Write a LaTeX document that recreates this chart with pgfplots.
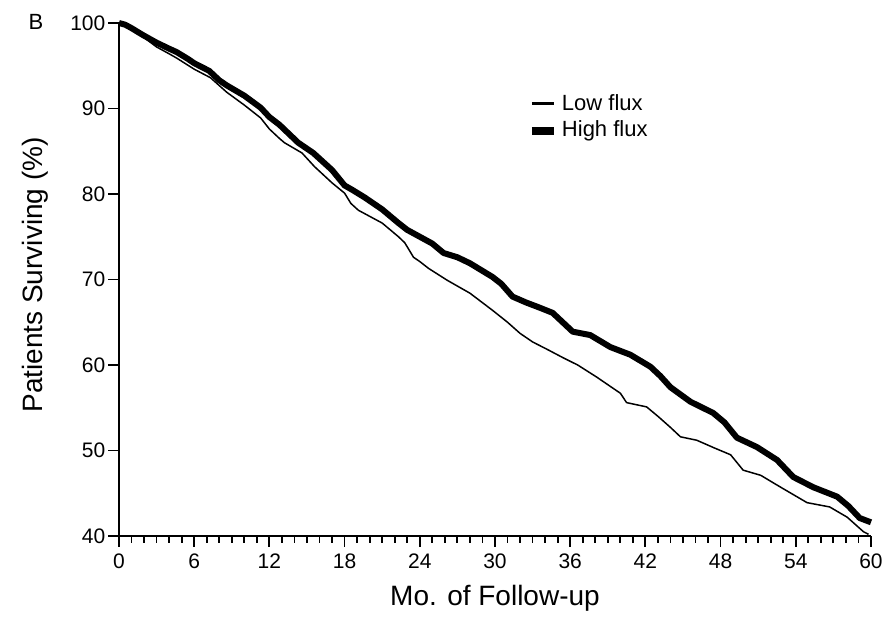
\documentclass[border=0pt]{standalone}
\usepackage{fontspec}
\setmainfont{Liberation Sans}
\usepackage{pgfplots}
\pgfplotsset{compat=1.18}

\begin{document}
\begin{tikzpicture}
\path[use as bounding box] (-59.5pt,-40.5pt) rectangle (388.5pt,268pt);
\begin{axis}[
  at={(0,0)}, anchor=south west,
  scale only axis,
  width=376pt, height=256.5pt,
  xmin=0, xmax=60, ymin=40, ymax=100,
  axis x line=bottom, axis y line=left,
  axis line style={-, line width=0.9pt},
  every tick/.style={black, line width=0.9pt},
  tick align=outside,
  major tick length=5.3pt, minor tick length=3.3pt,
  xtick={0,6,...,60}, minor x tick num=5,
  ytick={40,50,...,100},
  /pgf/number format/assume math mode=true,
  ticklabel style={font=\fontsize{10.5}{12}\selectfont},
  yticklabel style={xshift=2pt},
  xlabel={Mo. of Follow-up},
  ylabel={Patients Surviving (\%)},
  label style={font=\fontsize{14}{16}\selectfont},
  xlabel style={at={(axis description cs:0.5,-0.121)}, anchor=center},
  ylabel style={at={(axis description cs:-0.111,0.509)}, anchor=center},
  clip=false,
  legend style={at={(axis cs:32.6,92.2)}, anchor=north west, draw=none, fill=none,
    font=\fontsize{11}{13}\selectfont, row sep=0pt, inner sep=0pt},
  legend cell align={left},
  legend image code/.code={\draw[#1] (0pt,0pt) -- (11pt,0pt);},
]
\addlegendimage{black, line width=1.3pt}
\addlegendentry{Low flux}
\addlegendimage{black, line width=4pt}
\addlegendentry{High flux}
% Low flux
\addplot[black, line width=0.75pt, line join=round, forget plot] coordinates {
(0,100) (1,99.3) (2,98.3) (3,97.2) (4,96.4) (4.6,95.9) (6,94.6) (7.3,93.6)
(8.6,91.9) (10,90.4) (11.3,88.9) (12,87.6) (12.8,86.5) (13.2,86.0) (14.6,84.8)
(15.6,83.2) (17,81.3) (18,80.1) (18.5,78.9) (19.1,78.1) (21,76.6) (22.3,75.0)
(22.8,74.3) (23.5,72.6) (24,72.1) (24.7,71.3) (26.2,69.9) (28,68.4) (29.8,66.4)
(31,65.0) (32,63.7) (33,62.7) (34.2,61.8) (35.5,60.8) (36.6,60.0) (38.1,58.6)
(40,56.7) (40.5,55.6) (42.1,55.1) (43,54.0) (44,52.7) (44.8,51.6) (46.1,51.2)
(47.5,50.3) (48.8,49.5) (49.8,47.7) (51.2,47.1) (52.8,45.7) (54.9,43.9)
(56.7,43.4) (58.1,42.2) (59.4,40.5) (59.8,40.2)
};
% High flux
\addplot[black, line width=3pt, line join=round, forget plot] coordinates {
(0,100) (0.5,99.8) (1,99.4) (1.9,98.6) (3,97.7) (4,97.0) (4.6,96.6) (5.5,95.8)
(6,95.3) (7.2,94.4) (8,93.3) (8.6,92.7) (10,91.5) (11.3,90.1) (12,89.0)
(12.8,88.1) (14.3,86.0) (15.5,84.8) (17,82.8) (18,81.0) (18.6,80.5) (19.6,79.6)
(21,78.2) (22.3,76.6) (23,75.8) (24,75.0) (25,74.2) (25.9,73.1) (27,72.6)
(28,71.9) (29.8,70.3) (30.5,69.5) (31.4,68.0) (32.5,67.3) (33.4,66.8)
(34.6,66.1) (35.4,65.0) (36.2,63.9) (37.6,63.5) (39.2,62.1) (40.8,61.2)
(42.4,59.8) (43.2,58.7) (44,57.4) (45.6,55.7) (47.4,54.4) (48.3,53.3)
(49.3,51.5) (50.9,50.4) (52.5,48.9) (53.8,46.9) (55.4,45.7) (57.3,44.6)
(58.2,43.5) (59.1,42.1) (60,41.6)
};
\end{axis}
\node[font=\fontsize{11}{13}\selectfont] at (-41.5pt,257pt) {B};
\end{tikzpicture}
\end{document}
